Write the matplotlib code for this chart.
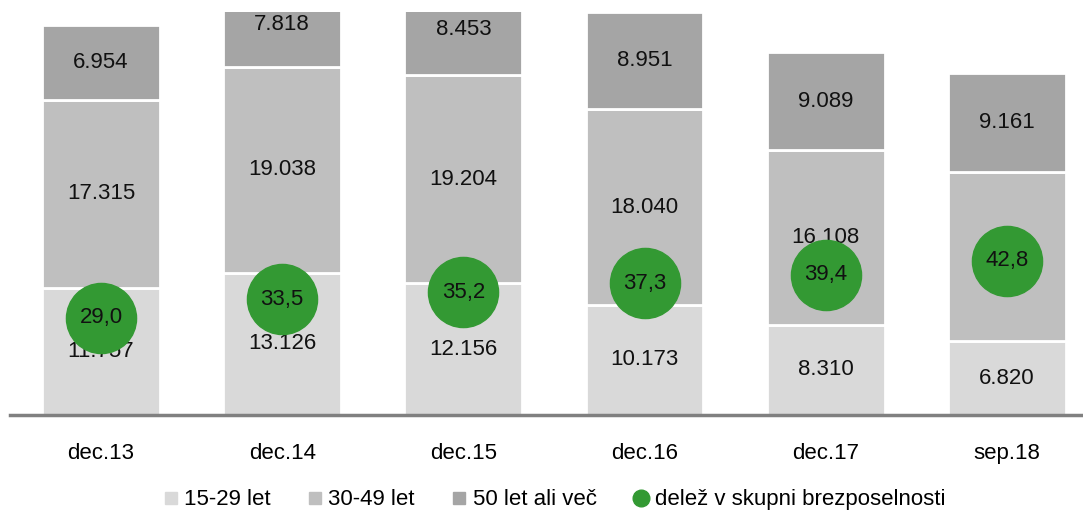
import matplotlib.pyplot as plt
from matplotlib.lines import Line2D
import numpy as np

# data
periods = ["dec.13", "dec.14", "dec.15", "dec.16", "dec.17", "sep.18"]
age_15_29 = [11757, 13126, 12156, 10173, 8310, 6820]
age_30_49 = [17315, 19038, 19204, 18040, 16108, 15616]
age_50_plus = [6954, 7818, 8453, 8951, 9089, 9161]
share = [29.0, 33.5, 35.2, 37.3, 39.4, 42.8]

series_names = ["15-29 let", "30-49 let", "50 let ali več"]
share_name = "delež v skupni brezposelnosti"

plt.rcParams["font.family"] = ["Liberation Sans", "DejaVu Sans"]
fs = 16

colors = ["#d9d9d9", "#bfbfbf", "#a5a5a5"]
green = "#339933"

fig = plt.figure(figsize=(10.83, 5.15), dpi=100)
ax = fig.add_axes([10.4 / 1083, 100 / 515, 1 - 10.4 / 1083, 403 / 515])

x = np.arange(len(periods))
width = 0.65
bottom = np.zeros(len(periods))
for vals, col in zip([age_15_29, age_30_49, age_50_plus], colors):
    vals = np.array(vals)
    ax.bar(x, vals, width, bottom=bottom, color=col, edgecolor="white",
           linewidth=2, zorder=2)
    for xi, b, v in zip(x, bottom, vals):
        lbl = f"{v:,}".replace(",", ".")
        ax.text(xi, b + v / 2, lbl, ha="center", va="center", fontsize=fs,
                color="#111111", zorder=5)
    bottom += vals

ax.set_ylim(0, 37200)
ax.set_xlim(-0.5, 5.42)
ax.set_yticks([])
ax.set_xticks(x, labels=periods, fontsize=fs)
ax.tick_params(axis="x", length=0, pad=20)
for s in ["top", "right", "left"]:
    ax.spines[s].set_visible(False)
ax.spines["bottom"].set_color("#808080")
ax.spines["bottom"].set_linewidth(2.5)
ax.spines["bottom"].set_zorder(6)

ax2 = ax.twinx()
ax2.set_ylim(5.6, 102.7)
ax2.scatter(x, share, s=2550, color=green, zorder=4, clip_on=False)
for xi, v in zip(x, share):
    ax2.text(xi, v, f"{v:.1f}".replace(".", ","), ha="center", va="center",
             fontsize=fs, color="#111111", zorder=6)
ax2.set_yticks([])
for s in ["top", "right", "left", "bottom"]:
    ax2.spines[s].set_visible(False)

handles = [Line2D([], [], marker="s", linestyle="none", markersize=8,
                  color=c) for c in colors]
handles.append(Line2D([], [], marker="o", linestyle="none", markersize=12,
                      color=green))
fig.legend(handles, series_names + [share_name], loc="lower center",
           bbox_to_anchor=(0.51, -0.03), ncol=4, frameon=False, fontsize=fs,
           handletextpad=0.1, columnspacing=1.5, handlelength=1.0)

fig.savefig("out.png", dpi=100)
